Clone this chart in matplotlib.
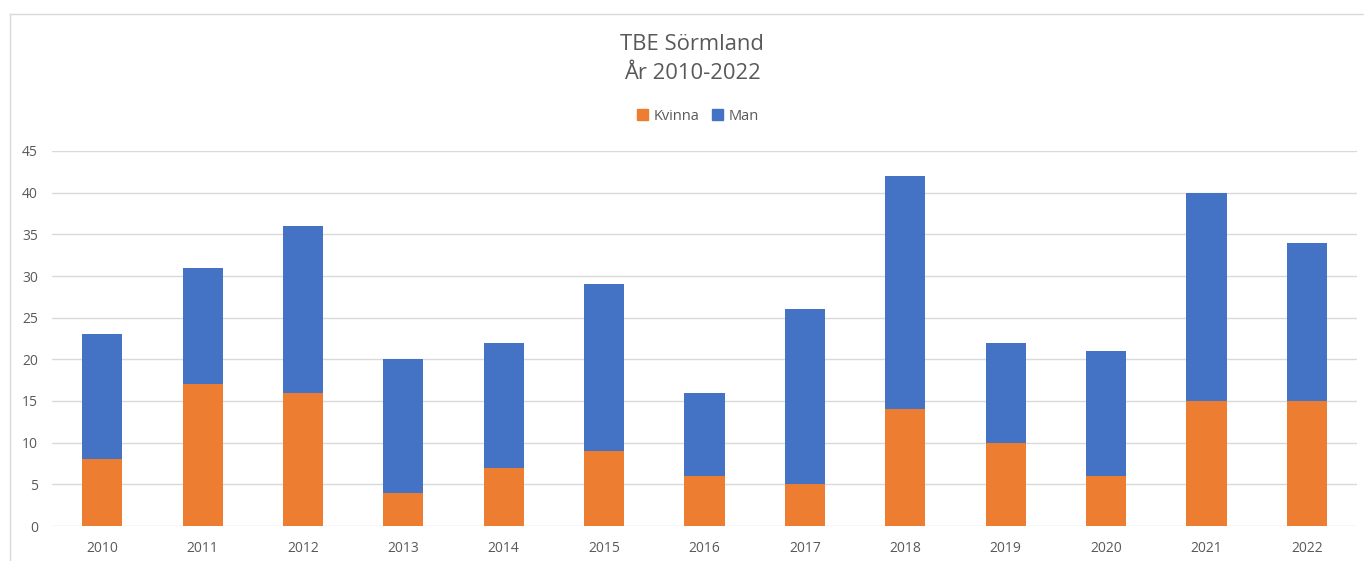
import numpy as np
import matplotlib.pyplot as plt
from matplotlib.lines import Line2D
from matplotlib.patches import Patch

years = ['2010', '2011', '2012', '2013', '2014', '2015', '2016',
         '2017', '2018', '2019', '2020', '2021', '2022']
kvinna = [8, 17, 16, 4, 7, 9, 6, 5, 14, 10, 6, 15, 15]
man = [15, 14, 20, 16, 15, 20, 10, 21, 28, 12, 15, 25, 19]

orange = '#ED7D31'
blue = '#4472C4'
text_col = '#595959'
grid_col = '#D9D9D9'

plt.rcParams['font.family'] = ['Open Sans', 'DejaVu Sans']

fig = plt.figure(figsize=(13.64, 5.61), dpi=100)
W, H = 1364, 561

# chart border (left and top edges visible)
fig.add_artist(Line2D([10 / W, 10 / W], [0, 1 - 14 / H], transform=fig.transFigure,
                      color=grid_col, lw=1))
fig.add_artist(Line2D([10 / W, 1], [1 - 14 / H, 1 - 14 / H], transform=fig.transFigure,
                      color=grid_col, lw=1))

ax = fig.add_axes([52 / W, 1 - 526 / H, (1357 - 52) / W, (526 - 151) / H])
x = np.arange(len(years))
ax.bar(x, kvinna, width=0.4, color=orange, label='Kvinna', zorder=3)
ax.bar(x, man, width=0.4, bottom=kvinna, color=blue, label='Man', zorder=3)

ax.set_xlim(-0.5, len(years) - 0.5)
ax.set_ylim(0, 45)
ax.set_yticks(range(0, 46, 5))
ax.set_xticks(x)
ax.set_xticklabels(years)
ax.yaxis.grid(True, color=grid_col, lw=1, zorder=0)
for s in ax.spines.values():
    s.set_visible(False)
ax.tick_params(axis='both', length=0, colors=text_col, labelsize=10)
ax.tick_params(axis='y', pad=10)
ax.tick_params(axis='x', pad=11)

fig.text(692 / W, 1 - 44 / H, 'TBE Sörmland', ha='center', va='center',
         fontsize=15.8, color=text_col)
fig.text(692 / W, 1 - 74 / H, 'År 2010-2022', ha='center', va='center',
         fontsize=15.8, color=text_col)

handles = [Patch(color=orange), Patch(color=blue)]
fig.legend(handles, ['Kvinna', 'Man'], loc='center', bbox_to_anchor=(698 / W, 1 - 116 / H),
           ncol=2, frameon=False, fontsize=10.5, labelcolor=text_col,
           handlelength=0.7, handleheight=0.7, handletextpad=0.4, columnspacing=0.9)

fig.savefig('out.png', dpi=100)
